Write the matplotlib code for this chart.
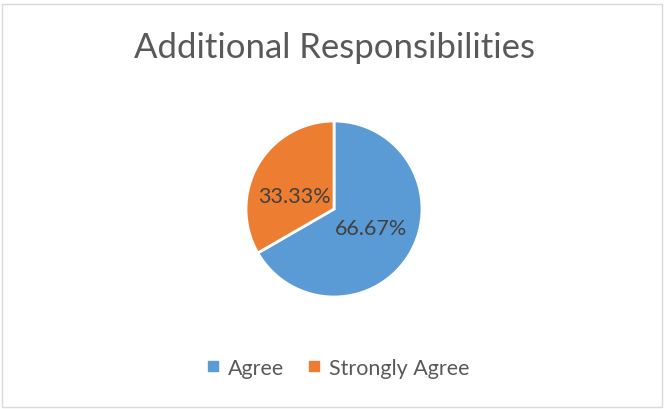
import matplotlib
matplotlib.use("Agg")
import matplotlib.pyplot as plt
import numpy as np
from matplotlib.lines import Line2D
from matplotlib.patches import Rectangle

plt.rcParams['font.family'] = ['Lato', 'DejaVu Sans']

title = "Additional Responsibilities"
labels = ["Agree", "Strongly Agree"]
shares = [66.67, 33.33]
colors = ["#5B9BD5", "#ED7D31"]

W, H = 665, 410
fig = plt.figure(figsize=(W / 100, H / 100), dpi=100)

# pie centred at (334, 210) px with radius 88 px
cx, cy, r = 334, 210, 88
ax = fig.add_axes([(cx - r) / W, 1 - (cy + r) / H, 2 * r / W, 2 * r / H])
wedges, texts, autotexts = ax.pie(
    shares, colors=colors, startangle=90, counterclock=False,
    autopct='%.2f%%', pctdistance=0.47,
    wedgeprops=dict(edgecolor='white', linewidth=2),
    textprops=dict(fontsize=15.5, color='#404040'))
ax.set_xlim(-1, 1)
ax.set_ylim(-1, 1)
ax.set_aspect('equal')

# nudge the data labels a little, the way Excel places them
for t, (dist, ang) in zip(autotexts, [(0.47, -28), (0.47, 161)]):
    a = np.deg2rad(ang)
    t.set_position((dist * np.cos(a), dist * np.sin(a)))

fig.text(cx / W, 1 - 48 / H, title, ha='center', va='center',
         fontsize=25, color='#595959')

handles = [Line2D([], [], marker='s', linestyle='none', markersize=7,
                  markerfacecolor=c, markeredgecolor=c) for c in colors]
fig.legend(handles, labels, loc='center', bbox_to_anchor=(338 / W, 1 - 369 / H),
           ncol=2, frameon=False, fontsize=15.5, labelcolor='#595959',
           handletextpad=0.4, columnspacing=1.05, handlelength=0.6)

fig.patches.append(Rectangle((2 / W, 2 / H), 660 / W, 403 / H, transform=fig.transFigure,
                             fill=False, edgecolor='#D9D9D9', linewidth=1))

fig.savefig("out.png", dpi=100)
